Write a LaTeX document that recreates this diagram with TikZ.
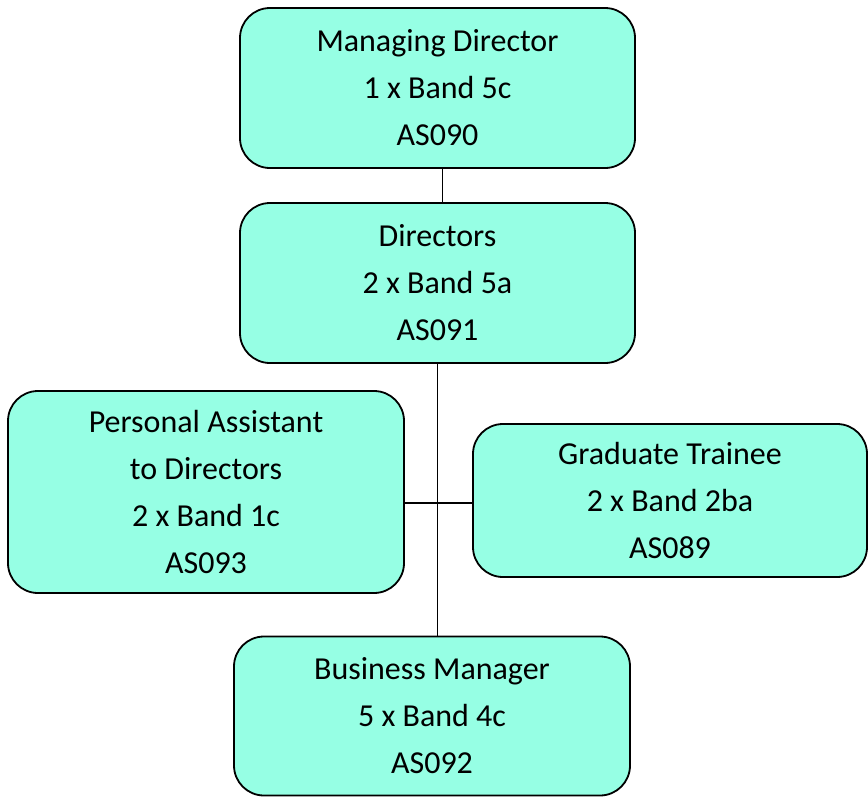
\documentclass[tikz,border=0pt]{standalone}
\usepackage{fontspec}
\setmainfont{Carlito}
\definecolor{boxfill}{RGB}{150,255,228}
\begin{document}
\begin{tikzpicture}[x=1pt,y=-1pt,
  post/.style={draw=black, line width=1.8pt, fill=boxfill, rounded corners=30pt,
    inner sep=0pt, align=center, font=\fontsize{32}{47}\selectfont},
  link/.style={draw=black, line width=1.8pt}]
  \useasboundingbox (0,0) rectangle (868,796);
  \node[post, minimum width=395, minimum height=160] (md) at (437.5,88)
    {Managing Director\\1 x Band 5c\\AS090};
  \node[post, minimum width=395, minimum height=160] (dir) at (437.5,283)
    {Directors\\2 x Band 5a\\AS091};
  \node[post, minimum width=396, minimum height=202] (pa) at (206,492)
    {Personal Assistant\\to Directors\\2 x Band 1c\\AS093};
  \node[post, minimum width=394, minimum height=153] (gt) at (670,500.5)
    {Graduate Trainee\\2 x Band 2ba\\AS089};
  \node[post, minimum width=396, minimum height=159] (bm) at (432,716)
    {Business Manager\\5 x Band 4c\\AS092};
  \coordinate (hub) at (437.5,503);
  \draw[link] ([xshift=5pt]md.south) -- ([xshift=5pt]md.south |- dir.north);
  \draw[link] (dir.south) -- (dir.south |- bm.north);
  \draw[link] (pa.east |- hub) -- (gt.west |- hub);
\end{tikzpicture}
\end{document}
